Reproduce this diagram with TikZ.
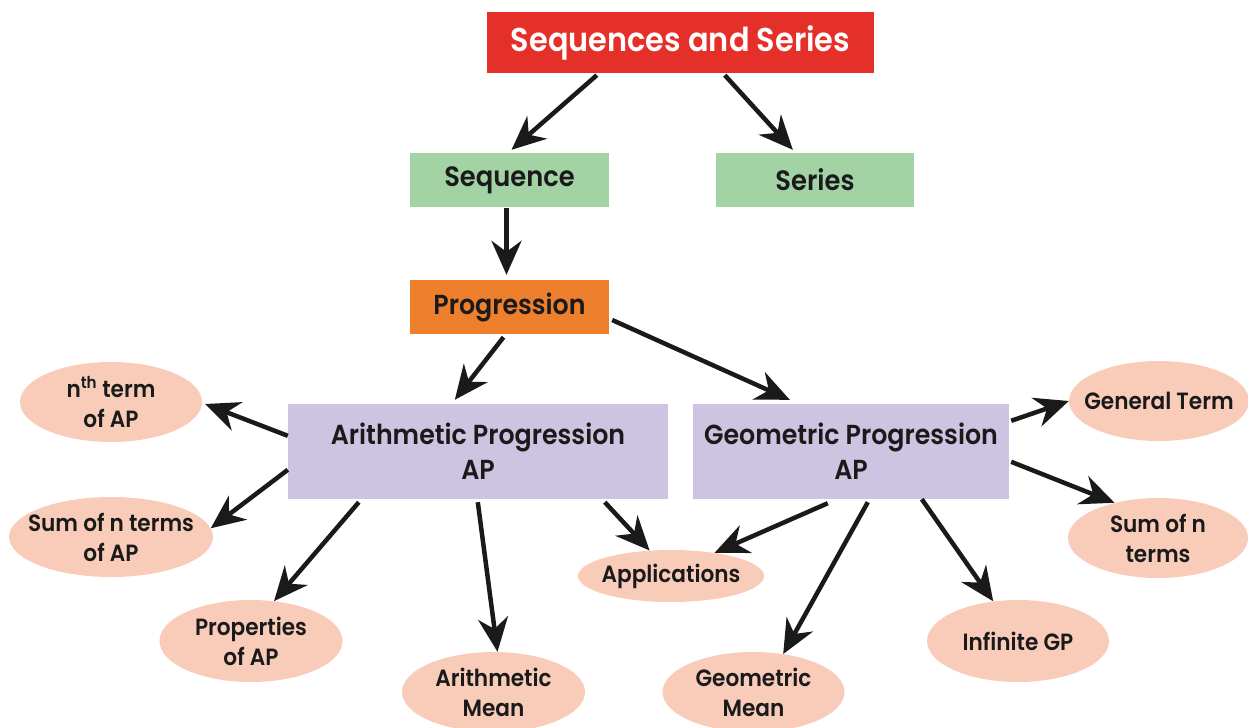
\documentclass[tikz,border=0pt]{standalone}
\usepackage{fontspec}
\setmainfont{Poppins}[FakeStretch=0.92, BoldFont={Poppins SemiBold}]
\usetikzlibrary{shapes.geometric,arrows.meta,calc}
\definecolor{cred}{HTML}{E5302A}
\definecolor{cgreen}{HTML}{A3D2A5}
\definecolor{corange}{HTML}{EE7F2D}
\definecolor{cpurple}{HTML}{CDC4E2}
\definecolor{csalmon}{HTML}{F9CCBA}
\definecolor{ctext}{HTML}{1A1A1A}
\tikzset{
  boxnode/.style={rectangle, inner sep=0pt, align=center, text=ctext},
  leaf/.style={ellipse, fill=csalmon, inner xsep=-20pt, inner ysep=0pt, align=center, text=ctext,
    font=\fontsize{23.5}{30}\selectfont\bfseries},
  conn/.style={-{Stealth[length=34pt,width=30pt]}, line width=4.5pt, color=ctext},
}
\begin{document}
\begin{tikzpicture}[x=1pt,y=-1pt]
\useasboundingbox (0,0) rectangle (1248,728);
% boxes
\node[boxnode, fill=cred, text=white, minimum width=387pt, minimum height=61pt,
  font=\fontsize{33}{38}\selectfont\bfseries] (top) at (680.5,42.5) {Sequences and Series};
\node[boxnode, fill=cgreen, minimum width=199pt, minimum height=54pt,
  font=\fontsize{28}{32}\selectfont\bfseries] (seq) at (509.5,180) {Sequence};
\node[boxnode, fill=cgreen, minimum width=198pt, minimum height=54pt,
  font=\fontsize{28}{32}\selectfont\bfseries] (ser) at (815,180) {Series};
\node[boxnode, fill=corange, minimum width=199pt, minimum height=54pt,
  font=\fontsize{27.5}{32}\selectfont\bfseries] (prog) at (509.5,307) {Progression};
\node[boxnode, fill=cpurple, minimum width=380pt, minimum height=95pt,
  font=\fontsize{27.5}{35}\selectfont\bfseries] (ap) at (478,451.5) {Arithmetic Progression\\AP};
\node[boxnode, fill=cpurple, minimum width=316pt, minimum height=95pt,
  font=\fontsize{27.5}{35}\selectfont\bfseries] (gp) at (851,451.5) {Geometric Progression\\AP};
% leaves
\node[leaf, minimum width=182pt, minimum height=80pt] (nth) at (111,402) {n\textsuperscript{th} term\\of AP};
\node[leaf, minimum width=204pt, minimum height=80pt] (sumap) at (111,537) {Sum of n terms\\of AP};
\node[leaf, minimum width=183pt, minimum height=82pt] (prop) at (251,641) {Properties\\of AP};
\node[leaf, minimum width=183pt, minimum height=80pt] (am) at (493.5,692) {Arithmetic\\Mean};
\node[leaf, minimum width=186pt, minimum height=52pt] (app) at (671,576) {Applications};
\node[leaf, minimum width=182pt, minimum height=80pt] (gm) at (753.5,692) {Geometric\\Mean};
\node[leaf, minimum width=182pt, minimum height=82pt] (inf) at (1018,641) {Infinite GP};
\node[leaf, minimum width=180pt, minimum height=80pt] (gen) at (1159,401) {General Term};
\node[leaf, minimum width=180pt, minimum height=80pt] (sumgp) at (1158,538) {Sum of n\\terms};
% connectors
\draw[conn] ($(top.south west)+(110,2)$) -- ($(seq.north)+(2,-3)$);
\draw[conn] ($(top.south west)+(238,2)$) -- ($(ser.north west)+(77,-3)$);
\draw[conn] ($(seq.south)+(-3,1)$) -- ($(prog.north)+(-3,-5)$);
\draw[conn] ($(prog.south)+(-6,3)$) -- ($(ap.north west)+(167,-4)$);
\draw[conn] ($(prog.east)+(3,13)$) -- ($(gp.north west)+(97,-4)$);
\draw[conn] ($(ap.north west)+(0,32)$) -- ($(nth.east)+(3,2)$);
\draw[conn] ($(ap.north west)+(0,66)$) -- (sumap.5);
\draw[conn] ($(ap.south west)+(71,3)$) -- (prop.60);
\draw[conn] ($(ap.south west)+(190,3)$) -- ($(am.north)+(4,0)$);
\draw[conn] ($(ap.south west)+(317,3)$) -- (app.130);
\draw[conn] ($(gp.south west)+(135,4)$) -- (app.28);
\draw[conn] ($(gp.south west)+(175,3)$) -- (gm.52);
\draw[conn] ($(gp.south west)+(229,0)$) -- (inf.122);
\draw[conn] ($(gp.north east)+(2,17)$) -- (gen.west);
\draw[conn] ($(gp.north east)+(2,58)$) -- (sumgp.141);
\end{tikzpicture}
\end{document}
